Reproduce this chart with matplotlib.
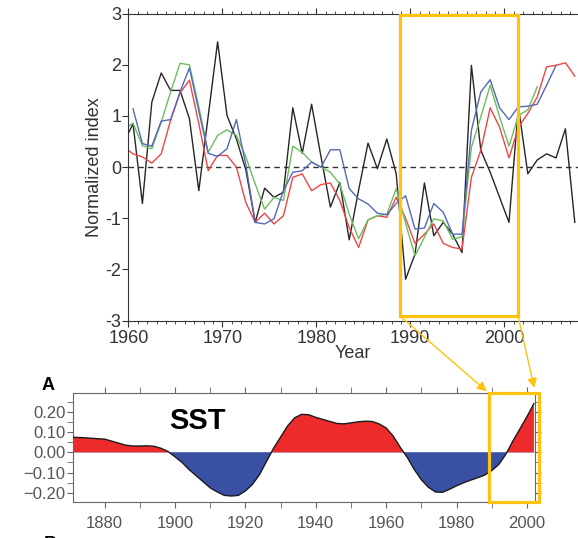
import numpy as np
import matplotlib.pyplot as plt
from matplotlib.patches import Rectangle, ConnectionPatch

plt.rcParams['font.family'] = ['Liberation Sans', 'DejaVu Sans']

# Normalized indices (annual, plotted at mid-year)
years_black = list(range(1959, 2008))
black = [0.47, 0.85, -0.71, 1.27, 1.84, 1.50, 1.50, 0.95, -0.46, 1.00,
         2.45, 1.01, 0.55, -0.05, -1.08, -0.41, -0.59, -0.49, 1.16, 0.27,
         1.23, 0.20, -0.78, -0.30, -1.42, -0.45, 0.47, -0.03, 0.55, -0.13,
         -2.19, -1.70, -0.31, -1.34, -1.08, -1.31, -1.67, 1.99, 0.33, -0.10,
         -0.59, -1.08, 1.18, -0.13, 0.14, 0.26, 0.18, 0.75, -1.08]

years_red = list(range(1959, 2008))
red = [0.40, 0.26, 0.20, 0.08, 0.26, 0.92, 1.45, 1.70, 0.85, -0.07,
       0.23, 0.23, 0.00, -0.69, -1.08, -0.90, -1.11, -0.95, -0.20, -0.13,
       -0.46, -0.34, -0.31, -0.65, -1.18, -1.57, -1.03, -0.95, -0.98, -0.59,
       -1.00, -1.49, -1.31, -1.11, -1.49, -1.57, -1.60, -0.20, 0.33, 1.16,
       0.78, 0.18, 0.78, 1.05, 1.37, 1.96, 1.99, 2.04, 1.78]

years_blue = list(range(1960, 2006))
blue = [1.14, 0.46, 0.41, 0.90, 0.93, 1.47, 1.94, 1.10, 0.27, 0.21,
        0.36, 0.93, 0.05, -1.08, -1.11, -1.01, -0.46, -0.10, -0.07, 0.10,
        0.00, 0.34, 0.34, -0.42, -0.62, -0.72, -0.90, -0.93, -0.71, -0.56,
        -1.21, -1.19, -0.71, -0.88, -1.31, -1.31, 0.72, 1.47, 1.71, 1.16,
        0.93, 1.18, 1.19, 1.23, 1.60, 1.99]

years_green = list(range(1959, 2004))
green = [0.74, 0.86, 0.42, 0.36, 0.88, 1.47, 2.03, 2.00, 1.18, 0.29,
         0.62, 0.73, 0.62, 0.20, -0.33, -0.82, -0.59, -0.65, 0.41, 0.29,
         0.10, 0.00, -0.10, -0.33, -0.92, -1.40, -1.03, -0.95, -0.92, -0.42,
         -1.10, -1.73, -1.37, -1.01, -1.05, -1.41, -1.36, 0.39, 0.98, 1.60,
         0.98, 0.41, 1.01, 1.12, 1.57]

# Smoothed SST index (panel A)
sst_years = [1871, 1874, 1878, 1880, 1882, 1884, 1886, 1888, 1890, 1892,
             1894, 1896, 1898, 1900, 1902, 1904, 1906, 1908, 1910, 1912,
             1914, 1916, 1918, 1920, 1922, 1924, 1926, 1928, 1930, 1932,
             1934, 1936, 1938, 1940, 1942, 1944, 1946, 1948, 1950, 1952,
             1954, 1956, 1958, 1960, 1962, 1964, 1966, 1968, 1970, 1972,
             1974, 1976, 1978, 1980, 1982, 1984, 1986, 1988, 1990, 1992,
             1994, 1996, 1998, 2000, 2002]
sst = [0.074, 0.072, 0.067, 0.065, 0.055, 0.045, 0.035, 0.031, 0.031, 0.032,
       0.030, 0.020, 0.004, -0.022, -0.050, -0.085, -0.115, -0.145, -0.175, -0.195,
       -0.212, -0.215, -0.212, -0.190, -0.158, -0.110, -0.045, 0.020, 0.075, 0.130,
       0.170, 0.187, 0.185, 0.172, 0.162, 0.152, 0.142, 0.140, 0.145, 0.150,
       0.153, 0.152, 0.140, 0.120, 0.080, 0.025, -0.025, -0.085, -0.135, -0.172,
       -0.195, -0.197, -0.182, -0.165, -0.150, -0.137, -0.125, -0.112, -0.090, -0.060,
       -0.010, 0.055, 0.115, 0.175, 0.240]

yellow = '#FFC20E'

fig = plt.figure(figsize=(5.78, 5.38), dpi=100)

# Top panel: normalized indices
ax1 = fig.add_axes([0.222, 0.404, 0.778, 0.5706])
ax1.axhline(0, color='#333333', lw=1, ls=(0, (4, 3)))
ax1.plot(np.array(years_black) + 0.5, black, color='#262626', lw=1)
ax1.plot(np.array(years_red) + 0.5, red, color='#f04545', lw=1)
ax1.plot(np.array(years_green) + 0.5, green, color='#6cbf5c', lw=1)
ax1.plot(np.array(years_blue) + 0.5, blue, color='#5568bb', lw=1)
ax1.set_xlim(1960, 2007.84)
ax1.set_ylim(-3, 3)
ax1.set_xticks(range(1960, 2001, 10))
ax1.set_xticks(range(1960, 2008), minor=True)
ax1.set_yticks(range(-3, 4))
ax1.set_yticklabels([str(v) if v >= 0 else '-' + str(-v) for v in range(-3, 4)])
ax1.spines['right'].set_visible(False)
for s in ['left', 'top', 'bottom']:
    ax1.spines[s].set_color('#333333')
ax1.tick_params(which='both', direction='out', top=True, bottom=True,
                right=False, colors='#333333', labelsize=13, pad=1)
ax1.tick_params(axis='x', which='major', pad=2.5)
ax1.tick_params(which='major', length=4)
ax1.tick_params(which='minor', length=2)
ax1.set_xlabel('Year', fontsize=13, labelpad=-1, color='#333333')
ax1.set_ylabel('Normalized index', fontsize=13, labelpad=2, color='#333333')

# Bottom panel: SST
ax2 = fig.add_axes([0.1263, 0.0675, 0.7993, 0.202])
sst_arr = np.array(sst)
ax2.axhline(0, color='#b4bde3', lw=0.8, zorder=1)
ax2.fill_between(sst_years, sst_arr, 0, where=sst_arr >= 0, interpolate=True,
                 color='#ee2b2b', lw=0, zorder=2)
ax2.fill_between(sst_years, sst_arr, 0, where=sst_arr <= 0, interpolate=True,
                 color='#3a50a5', lw=0, zorder=2)
ax2.plot(sst_years, sst, color='#1a1a1a', lw=1, zorder=3)
ax2.set_xlim(1871, 2002.3)
ax2.set_ylim(-0.243, 0.292)
ax2.set_xticks(range(1880, 2001, 20))
ax2.set_xticks(range(1880, 2001, 10), minor=True)
ax2.set_yticks([-0.2, -0.1, 0.0, 0.1, 0.2])
ax2.set_yticklabels(['\u22120.20', '\u22120.10', '0.00', '0.10', '0.20'])
ax2.set_yticks(np.arange(-0.2, 0.26, 0.05), minor=True)
for s in ax2.spines.values():
    s.set_color('#666666')
ax2.tick_params(which='both', direction='out', top=True, right=True,
                length=4, colors='#666666', labelsize=12)
ax2.tick_params(axis='x', which='both', labelcolor='#555555', pad=6)
ax2.tick_params(axis='y', which='both', labelcolor='#555555', pad=1.5)

fig.text(0.341, 0.218, 'SST', fontsize=21, fontweight='bold', ha='center', va='center')
fig.text(48 / 578, 1 - 385 / 538, 'A', fontsize=13, fontweight='bold', ha='center', va='center')
# Panel B label sits at the bottom edge, only its top part shows
fig.text(50 / 578, -0.012, 'B', fontsize=13, fontweight='bold', ha='center', va='center')

# Zoom boxes and connecting arrows
ax1.add_patch(Rectangle((1988.9, -2.91), 12.56, 5.88, fill=False, ec=yellow,
                        lw=2.3, clip_on=False, zorder=5))
ax2.add_patch(Rectangle((1989.2, -0.243), 14.1, 0.535, fill=False, ec=yellow,
                        lw=2.3, clip_on=False, zorder=5))
for a, b in [((1988.9, -2.91), (1988.6, 0.30)), ((2001.46, -2.91), (2002.1, 0.317))]:
    con = ConnectionPatch(xyA=a, coordsA=ax1.transData, xyB=b, coordsB=ax2.transData,
                          arrowstyle='-|>', color=yellow, lw=1, mutation_scale=14)
    fig.add_artist(con)

fig.savefig('out.png', dpi=100)
